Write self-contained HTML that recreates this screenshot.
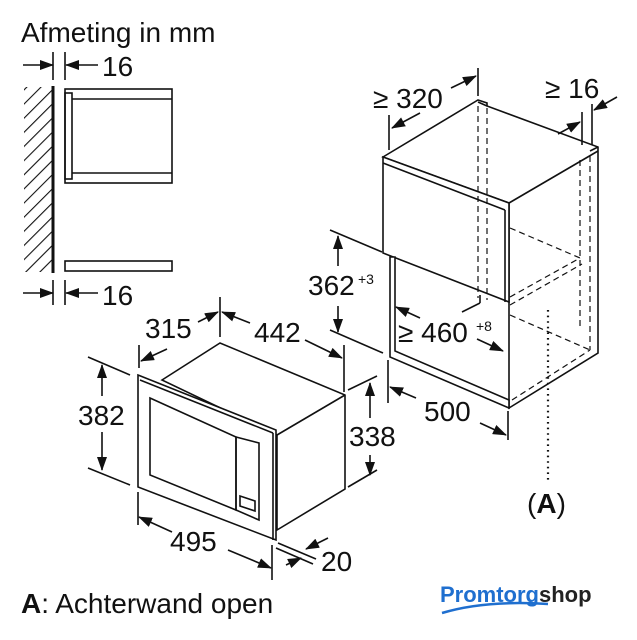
<!DOCTYPE html>
<html><head><meta charset="utf-8"><style>
html,body{margin:0;padding:0;background:#fff}
svg{display:block}
text{font-family:"Liberation Sans",Arial,sans-serif;fill:#111}
</style></head><body>
<svg width="637" height="640" viewBox="0 0 637 640" xmlns="http://www.w3.org/2000/svg">
<defs>
<marker id="a" markerWidth="14" markerHeight="10" refX="13" refY="5" orient="auto" markerUnits="userSpaceOnUse">
<path d="M0,0 L14,5 L0,10 Z" fill="#111"/></marker>
<pattern id="h" width="10" height="10" patternUnits="userSpaceOnUse" patternTransform="rotate(45)">
<line x1="0" y1="0" x2="0" y2="10" stroke="#111" stroke-width="2.2"/></pattern>
</defs>
<text x="21" y="42" font-size="28">Afmeting in mm</text>

<!-- Side view -->
<g stroke="#111" fill="none" stroke-width="1.6">
<rect x="24" y="87" width="28" height="185" fill="url(#h)" stroke="none"/>
<line x1="53" y1="86" x2="53" y2="273" stroke-width="3"/>
<line x1="53" y1="52" x2="53" y2="80"/>
<line x1="65" y1="52" x2="65" y2="80"/>
<line x1="23" y1="65" x2="53" y2="65" marker-end="url(#a)"/>
<line x1="98" y1="65" x2="66" y2="65" marker-end="url(#a)"/>
<line x1="53" y1="280" x2="53" y2="305"/>
<line x1="65" y1="280" x2="65" y2="305"/>
<line x1="23" y1="293" x2="53" y2="293" marker-end="url(#a)"/>
<line x1="98" y1="293" x2="66" y2="293" marker-end="url(#a)"/>
<rect x="65" y="89" width="107" height="94"/>
<line x1="72" y1="99" x2="172" y2="99"/>
<line x1="72" y1="173" x2="172" y2="173"/>
<rect x="65" y="93" width="7" height="86"/>
<rect x="65" y="261" width="107" height="10"/>
</g>
<text x="102" y="76" font-size="28">16</text>
<text x="102" y="305" font-size="28">16</text>

<!-- Cabinet -->
<g stroke="#111" fill="none" stroke-width="1.6">
<polygon points="383,157 478,100 487,103 487,106 598,147 598,353 509,408 509,203" fill="#fff"/>
<line x1="487" y1="106" x2="478" y2="102"/>
<line x1="590" y1="151" x2="598" y2="147"/>
<line x1="509" y1="203" x2="598" y2="151"/>
<polygon points="383,157 509,203 509,302 383,253" fill="#fff"/>
<line x1="383" y1="163" x2="505" y2="210"/>
<line x1="505" y1="210" x2="505" y2="302"/>
<polygon points="390,257 390,357 509,408 509,400 395,351 395,257" fill="#fff"/>
<line x1="480" y1="295" x2="480" y2="303"/>
<line x1="480" y1="303" x2="462" y2="312"/>
<g stroke-dasharray="6,4" stroke-width="1.2">
<line x1="478" y1="106" x2="478" y2="298"/>
<line x1="487" y1="108" x2="487" y2="300"/>
<line x1="580" y1="160" x2="580" y2="330"/>
<line x1="590" y1="156" x2="590" y2="350"/>
<line x1="510" y1="228" x2="580" y2="258"/>
<line x1="510" y1="297" x2="580" y2="258"/>
<line x1="510" y1="305" x2="582" y2="264"/>
<line x1="510" y1="315" x2="590" y2="350"/>
<line x1="512" y1="400" x2="590" y2="350"/>
</g>
<line x1="548" y1="310" x2="548" y2="480" stroke-dasharray="1.6,4" stroke-width="2.2"/>
<line x1="389" y1="115" x2="389" y2="150"/>
<line x1="478" y1="68" x2="478" y2="96"/>
<line x1="420" y1="113" x2="392" y2="128" marker-end="url(#a)"/>
<line x1="451" y1="88" x2="476" y2="76" marker-end="url(#a)"/>
<line x1="582" y1="112" x2="582" y2="145"/>
<line x1="592" y1="104" x2="592" y2="145"/>
<line x1="558" y1="134" x2="580" y2="122" marker-end="url(#a)"/>
<line x1="617" y1="97" x2="594" y2="110" marker-end="url(#a)"/>
<line x1="330" y1="230" x2="382" y2="252"/>
<line x1="330" y1="330" x2="383" y2="353"/>
<line x1="338" y1="266" x2="338" y2="236" marker-end="url(#a)"/>
<line x1="338" y1="306" x2="338" y2="332" marker-end="url(#a)"/>
<line x1="420" y1="318" x2="396" y2="307" marker-end="url(#a)"/>
<line x1="477" y1="339" x2="503" y2="351" marker-end="url(#a)"/>
<line x1="388" y1="360" x2="388" y2="403"/>
<line x1="508" y1="411" x2="508" y2="440"/>
<line x1="416" y1="398" x2="390" y2="387" marker-end="url(#a)"/>
<line x1="480" y1="423" x2="506" y2="435" marker-end="url(#a)"/>
</g>
<text x="373" y="108" font-size="28">≥ 320</text>
<text x="545" y="98" font-size="28">≥ 16</text>
<text x="308" y="295" font-size="28">362</text>
<text x="358" y="284" font-size="14">+3</text>
<text x="398" y="342" font-size="28">≥ 460</text>
<text x="476" y="331" font-size="14">+8</text>
<text x="424" y="421" font-size="28">500</text>
<text x="527" y="513" font-size="28">(<tspan font-weight="bold">A</tspan>)</text>

<!-- Microwave -->
<g stroke="#111" fill="none" stroke-width="1.6">
<polygon points="162,380 220,343 345,395 345,489 277,530 277,435" fill="#fff"/>
<line x1="277" y1="435" x2="345" y2="395"/>
<polygon points="138,375 276,430 276,540 138,487" fill="#fff"/>
<line x1="140" y1="380" x2="273" y2="433"/>
<line x1="273" y1="433" x2="273" y2="540"/>
<polygon points="150,398 236,437 236,510 150,475"/>
<polygon points="236,437 259,443 259,520 236,510"/>
<polygon points="240,496 255,501 255,511 240,506"/>
<line x1="220" y1="297" x2="220" y2="337"/>
<line x1="139" y1="345" x2="139" y2="368"/>
<line x1="344" y1="345" x2="344" y2="392"/>
<line x1="167" y1="349" x2="141" y2="361" marker-end="url(#a)"/>
<line x1="198" y1="322" x2="218" y2="312" marker-end="url(#a)"/>
<line x1="250" y1="323" x2="222" y2="312" marker-end="url(#a)"/>
<line x1="305" y1="340" x2="342" y2="358" marker-end="url(#a)"/>
<line x1="88" y1="357" x2="130" y2="375"/>
<line x1="88" y1="468" x2="130" y2="485"/>
<line x1="102" y1="396" x2="102" y2="365" marker-end="url(#a)"/>
<line x1="102" y1="432" x2="102" y2="470" marker-end="url(#a)"/>
<line x1="348" y1="390" x2="377" y2="376"/>
<line x1="348" y1="487" x2="377" y2="470"/>
<line x1="370" y1="418" x2="370" y2="383" marker-end="url(#a)"/>
<line x1="370" y1="455" x2="370" y2="475" marker-end="url(#a)"/>
<line x1="138" y1="492" x2="138" y2="525"/>
<line x1="272" y1="545" x2="272" y2="580"/>
<line x1="172" y1="532" x2="139" y2="517" marker-end="url(#a)"/>
<line x1="228" y1="550" x2="271" y2="568" marker-end="url(#a)"/>
<line x1="278" y1="543" x2="316" y2="559"/>
<line x1="276" y1="548" x2="313" y2="564"/>
<line x1="328" y1="538" x2="306" y2="549" marker-end="url(#a)"/>
<line x1="286" y1="565" x2="301" y2="558" marker-end="url(#a)"/>
</g>
<text x="145" y="338" font-size="28">315</text>
<text x="254" y="342" font-size="28">442</text>
<text x="78" y="425" font-size="28">382</text>
<text x="349" y="446" font-size="28">338</text>
<text x="170" y="551" font-size="28">495</text>
<text x="321" y="571" font-size="28">20</text>

<text x="21" y="613" font-size="28"><tspan font-weight="bold">A</tspan>: Achterwand open</text>

<text x="440" y="602" font-size="22" font-weight="bold" style="fill:#1f6fcf">Promtorg<tspan style="fill:#222">shop</tspan></text>
<path d="M442,613 Q485,600 548,604" stroke="#1f6fcf" stroke-width="2.5" fill="none"/>
</svg>
</body></html>
